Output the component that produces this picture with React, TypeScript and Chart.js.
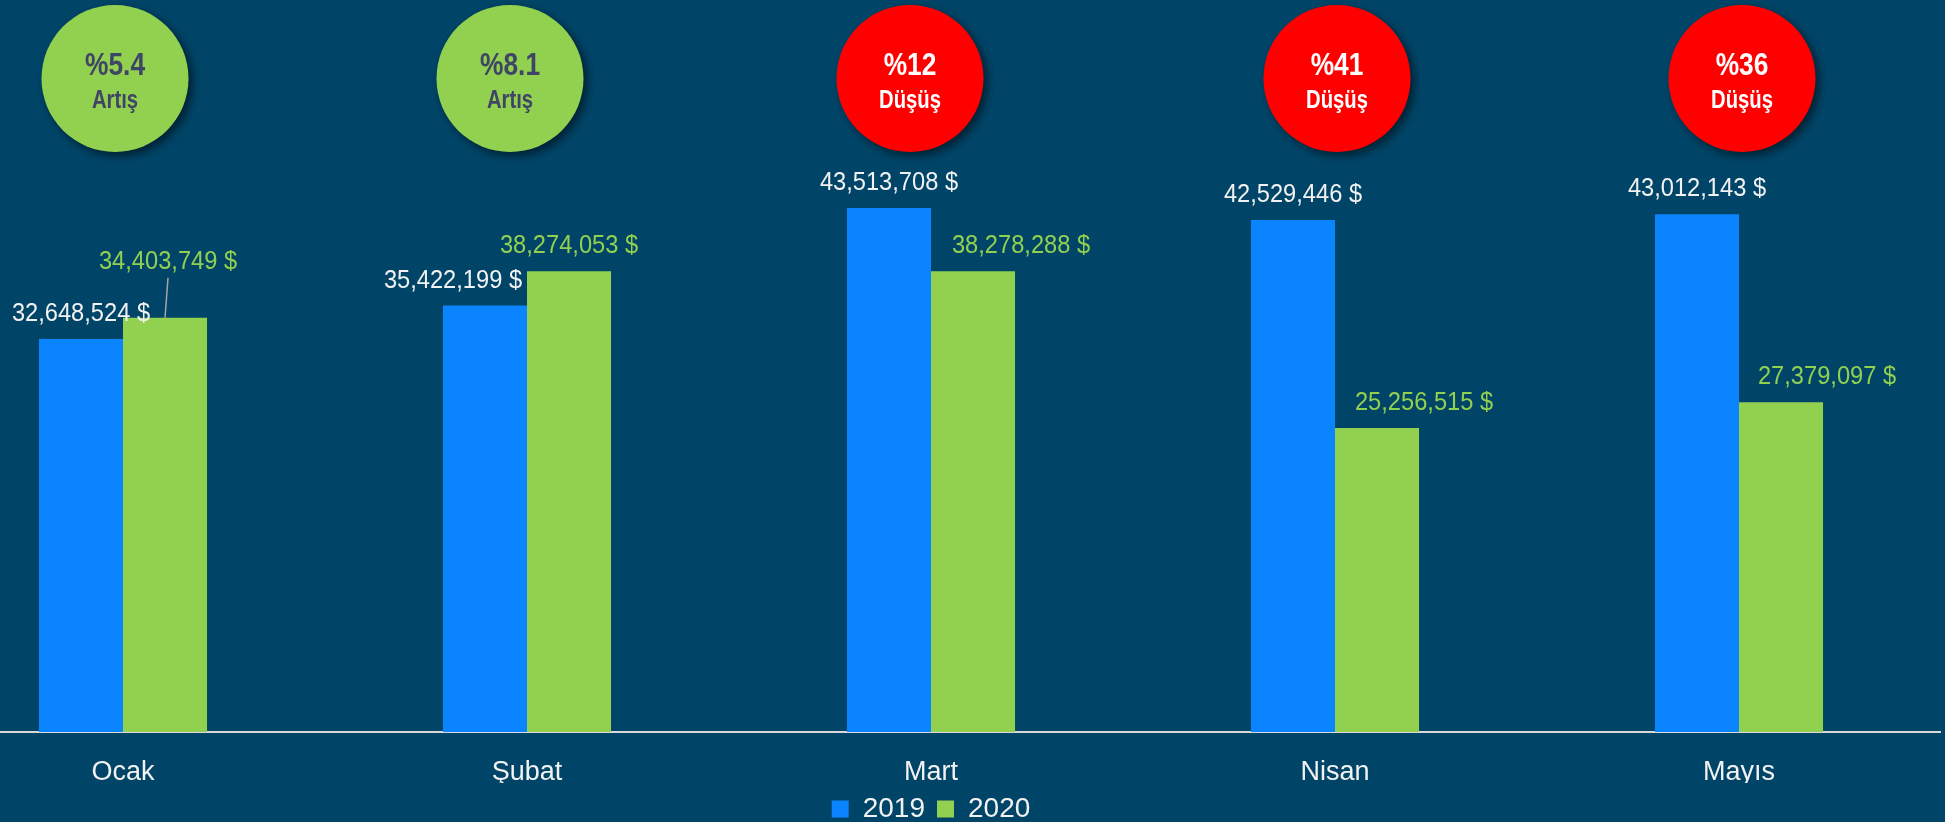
import React, { useEffect, useRef } from "react";
import { Chart, registerables } from "chart.js";

Chart.register(...registerables);

// ---- data ----
const categories = ["Ocak", "Şubat", "Mart", "Nisan", "Mayıs"];
const series2019 = [32648524, 35422199, 43513708, 42529446, 43012143];
const series2020 = [34403749, 38274053, 38278288, 25256515, 27379097];
const seriesNames = ["2019", "2020"];
const badgePercents = ["%5.4", "%8.1", "%12", "%41", "%36"];
const badgeWords = ["Artış", "Artış", "Düşüş", "Düşüş", "Düşüş"];
const yMax = 60800000;

// ---- label / badge placement tweaks (pixels, relative to library positions) ----
const labelDx2019 = [0, -32, 0, 0, 0];
const labelDx2020 = [3, 0, 48, 47, 46];
const labelDy2020 = [-31, 0, 0, 0, 0];
const badgeDx = [-8, -17, -21, 2, 3];

// ---- styles ----
const BG = "#004568";
const BLUE = "#0A84FF";
const GREEN = "#92D050";
const RED = "#FF0000";
const TEXT = "#F2F2F2";
const FONT = '"Liberation Sans", Arial, sans-serif';

const fmt = (v: number) => v.toLocaleString("en-US") + " $";

const overlayPlugin = {
  id: "overlay",
  afterDatasetsDraw(chart: any) {
    const ctx = chart.ctx as CanvasRenderingContext2D;
    const xs = chart.scales.x;
    // badges
    categories.forEach((_, i) => {
      const cx = xs.getPixelForValue(i) + badgeDx[i];
      const cy = 78.5;
      const r = 73.5;
      const up = series2020[i] >= series2019[i];
      ctx.save();
      ctx.shadowColor = "rgba(0,0,0,0.55)";
      ctx.shadowBlur = 10;
      ctx.shadowOffsetX = 4;
      ctx.shadowOffsetY = 4;
      ctx.beginPath();
      ctx.arc(cx, cy, r, 0, Math.PI * 2);
      ctx.fillStyle = up ? GREEN : RED;
      ctx.fill();
      ctx.restore();

      ctx.save();
      ctx.fillStyle = up ? "#3F4565" : "#FFFFFF";
      ctx.textAlign = "center";
      ctx.textBaseline = "alphabetic";
      ctx.font = `bold 31px ${FONT}`;
      ctx.translate(cx, 75);
      ctx.scale(0.85, 1);
      ctx.fillText(badgePercents[i], 0, 0);
      ctx.restore();

      ctx.save();
      ctx.fillStyle = up ? "#3F4565" : "#FFFFFF";
      ctx.textAlign = "center";
      ctx.textBaseline = "alphabetic";
      ctx.font = `bold 26px ${FONT}`;
      ctx.translate(cx, 108);
      ctx.scale(0.78, 1);
      ctx.fillText(badgeWords[i], 0, 0);
      ctx.restore();
    });

    // data labels
    [0, 1].forEach((di) => {
      const meta = chart.getDatasetMeta(di);
      const values = di === 0 ? series2019 : series2020;
      meta.data.forEach((bar: any, i: number) => {
        const dx = di === 0 ? labelDx2019[i] : labelDx2020[i];
        const dy = di === 0 ? 0 : labelDy2020[i];
        const lx = bar.x + dx;
        const ly = bar.y - 18 + dy;
        if (dy < -10) {
          ctx.save();
          ctx.strokeStyle = "#A6A6A6";
          ctx.lineWidth = 1.5;
          ctx.beginPath();
          ctx.moveTo(lx, ly + 9);
          ctx.lineTo(bar.x, bar.y);
          ctx.stroke();
          ctx.restore();
        }
        ctx.save();
        ctx.fillStyle = di === 0 ? TEXT : GREEN;
        ctx.textAlign = "center";
        ctx.textBaseline = "alphabetic";
        ctx.font = `26px ${FONT}`;
        ctx.translate(lx, ly);
        ctx.scale(0.91, 1);
        ctx.fillText(fmt(values[i]), 0, 0);
        ctx.restore();
      });
    });
  },
};

export default function App() {
  const ref = useRef<HTMLCanvasElement | null>(null);

  useEffect(() => {
    if (!ref.current) return;
    Chart.defaults.font.family = FONT;
    const chart = new Chart(ref.current, {
      type: "bar",
      data: {
        labels: categories,
        datasets: [
          {
            label: seriesNames[0],
            data: series2019,
            backgroundColor: BLUE,
            borderWidth: 0,
            categoryPercentage: 0.416,
            barPercentage: 1,
          },
          {
            label: seriesNames[1],
            data: series2020,
            backgroundColor: GREEN,
            borderWidth: 0,
            categoryPercentage: 0.416,
            barPercentage: 1,
          },
        ],
      },
      options: {
        responsive: false,
        animation: false,
        devicePixelRatio: 1,
        layout: { padding: 0 },
        plugins: {
          tooltip: { enabled: false },
          legend: {
            position: "bottom",
            labels: {
              color: TEXT,
              font: { size: 28 },
              boxWidth: 17,
              boxHeight: 17,
              padding: 12,
            },
          },
        },
        scales: {
          x: {
            grid: { display: false, drawTicks: false },
            border: { display: true, color: "#D9D9D9", width: 2 },
            ticks: { color: TEXT, font: { size: 27 }, padding: 24 },
            afterFit: (scale: any) => {
              scale.height = 51;
            },
          },
          y: {
            display: false,
            min: 0,
            max: yMax,
          },
        },
      },
      plugins: [overlayPlugin],
    });
    return () => chart.destroy();
  }, []);

  return (
    <div
      style={{
        position: "fixed",
        left: 0,
        top: 0,
        width: 1945,
        height: 822,
        overflow: "hidden",
        background: BG,
      }}
    >
      <canvas
        ref={ref}
        width={2020}
        height={833}
        style={{ position: "absolute", left: -79, top: 0, width: 2020, height: 833 }}
      />
    </div>
  );
}
